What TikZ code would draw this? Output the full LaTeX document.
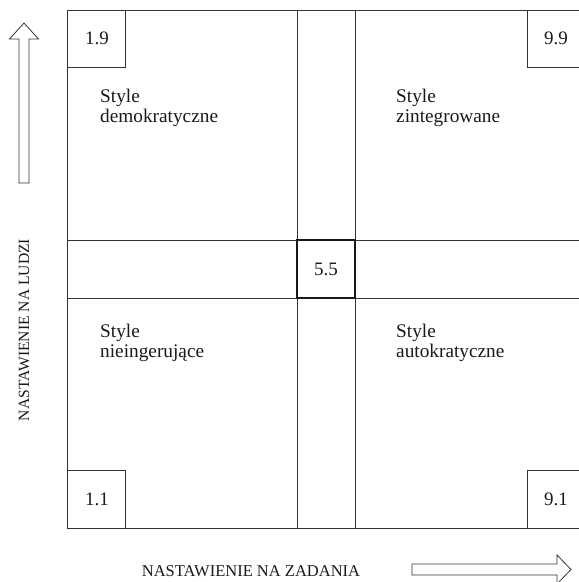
\documentclass[tikz,border=0pt]{standalone}
\usepackage{fontspec}
\setmainfont{Liberation Serif}
\begin{document}
\begin{tikzpicture}[x=1pt,y=-1pt,
  gridline/.style={draw=black!80,line width=0.9pt},
  centerbox/.style={draw=black!90,line width=1.4pt},
  stylelabel/.style={anchor=base west,inner sep=0pt,font=\fontsize{19.3}{20}\selectfont,text=black!90},
  numlabel/.style={inner sep=0pt,font=\fontsize{19}{20}\selectfont,text=black!90},
  axislabel/.style={inner sep=0pt,font=\fontsize{16.5}{18}\selectfont,text=black!90},
  hollowarrow/.style={draw=black!80,line width=0.8pt,fill=white}]
\useasboundingbox (0,0) rectangle (579,582);
% outer square and grid
\draw[gridline] (67,10) rectangle (585,528);
\draw[gridline] (297,10) -- (297,528);
\draw[gridline] (355,10) -- (355,528);
\draw[gridline] (67,240) -- (585,240);
\draw[gridline] (67,298) -- (585,298);
% corner boxes
\draw[gridline] (67,10) rectangle (125,67);
\draw[gridline] (527,10) rectangle (585,67);
\draw[gridline] (67,470) rectangle (125,528);
\draw[gridline] (527,470) rectangle (585,528);
\draw[centerbox] (297,240) rectangle (355,298);
% numbers
\node[numlabel] (n19) at (97,38.5) {1.9};
\node[numlabel] (n99) at (556,38.5) {9.9};
\node[numlabel] (n11) at (97,499) {1.1};
\node[numlabel] (n91) at (556,499) {9.1};
\node[numlabel] (n55) at (326,269) {5.5};
% style labels
\node[stylelabel] (dem1) at (100,102) {Style};
\node[stylelabel] (dem2) at (100,122) {demokratyczne};
\node[stylelabel] (zin1) at (396,102) {Style};
\node[stylelabel] (zin2) at (396,122) {zintegrowane};
\node[stylelabel] (nie1) at (100,337) {Style};
\node[stylelabel] (nie2) at (100,357) {nieingerujące};
\node[stylelabel] (aut1) at (396,337) {Style};
\node[stylelabel] (aut2) at (396,357) {autokratyczne};
% axis labels
\node[axislabel,font=\fontsize{15.6}{17}\selectfont,rotate=90] (ludzi) at (24,330) {NASTAWIENIE NA LUDZI};
\node[axislabel] (zadania) at (251,571) {NASTAWIENIE NA ZADANIA};
% hollow arrows
\draw[hollowarrow] (19,183) -- (19,39) -- (9.5,39) -- (24,23) -- (38.5,39) -- (29,39) -- (29,183) -- cycle;
\draw[hollowarrow] (412,564) -- (557,564) -- (557,555) -- (571,569.5) -- (557,584) -- (557,575) -- (412,575) -- cycle;
\end{tikzpicture}
\end{document}
